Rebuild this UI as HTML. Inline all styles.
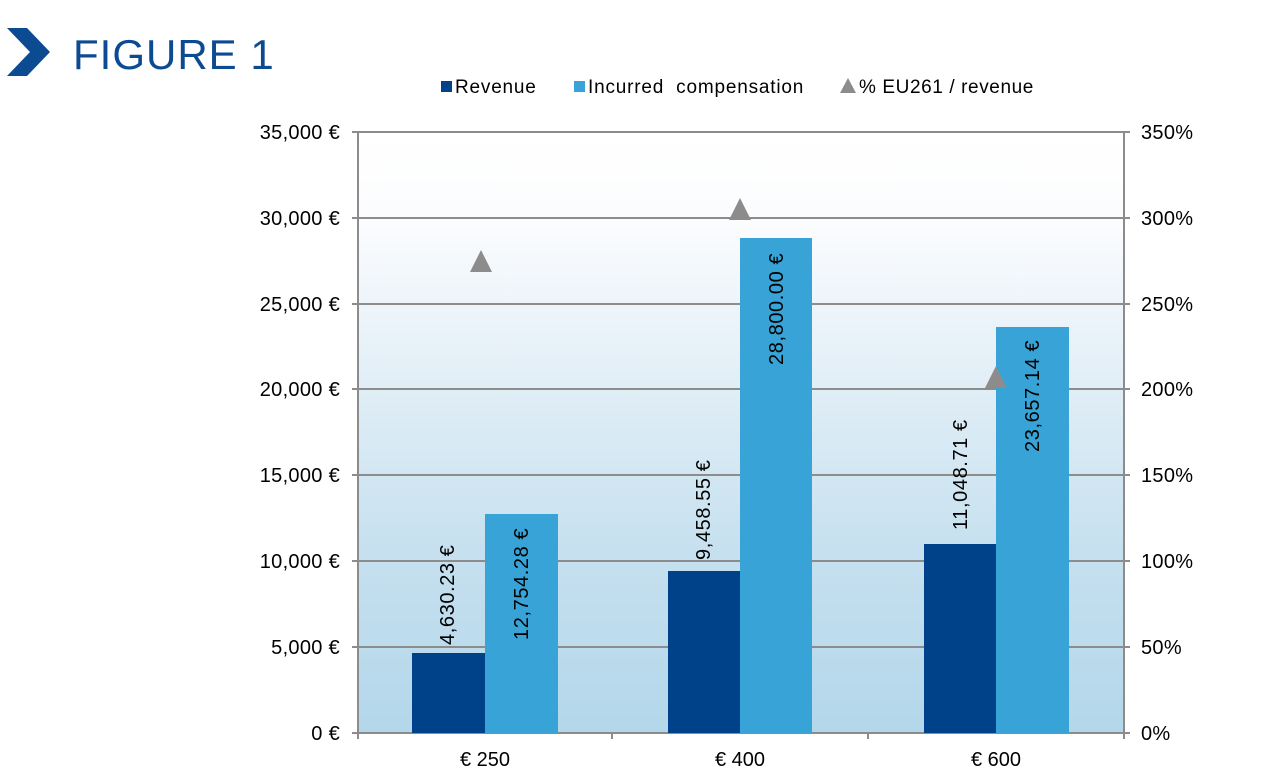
<!DOCTYPE html>
<html><head><style>body{margin:0;background:#fff}svg{display:block}text{font-family:"Liberation Sans",Arial,sans-serif}</style></head>
<body>
<svg width="1268" height="777" viewBox="0 0 1268 777">
<defs><linearGradient id="g" x1="0" y1="0" x2="0" y2="1">
<stop offset="0" stop-color="#ffffff"/><stop offset="0.15" stop-color="#fbfcfe"/><stop offset="0.7" stop-color="#c6e0ef"/><stop offset="1" stop-color="#b3d7ea"/></linearGradient></defs>
<polygon points="7,28 27,28 50,52 27,76 7,76 30,52" fill="#0c4a92"/>
<text x="73" y="69" font-size="42" fill="#0c4a92" letter-spacing="1">FIGURE 1</text>
<rect x="358" y="132" width="766" height="601" fill="url(#g)"/>
<g stroke="#8c8c8c" stroke-width="2">
<line x1="352" y1="132" x2="1130" y2="132"/><line x1="352" y1="218" x2="1130" y2="218"/>
<line x1="352" y1="304" x2="1130" y2="304"/><line x1="352" y1="389" x2="1130" y2="389"/>
<line x1="352" y1="475" x2="1130" y2="475"/><line x1="352" y1="561" x2="1130" y2="561"/>
<line x1="352" y1="647" x2="1130" y2="647"/><line x1="352" y1="733" x2="1130" y2="733"/>
<line x1="358" y1="132" x2="358" y2="739"/><line x1="1124" y1="132" x2="1124" y2="733"/>
<line x1="612" y1="733" x2="612" y2="739"/><line x1="868" y1="733" x2="868" y2="739"/><line x1="1124" y1="733" x2="1124" y2="739"/>
</g>
<g fill="#00428a"><rect x="412" y="653" width="73" height="80"/><rect x="668" y="571" width="72" height="162"/><rect x="924" y="544" width="72" height="189"/></g>
<g fill="#37a3d7"><rect x="485" y="514" width="73" height="219"/><rect x="740" y="238" width="72" height="495"/><rect x="996" y="327" width="73" height="406"/></g>
<g fill="#8c8c8c"><polygon points="481,250 470,272 492,272"/><polygon points="740,198 729,220 751,220"/><polygon points="996,366 985,388 1007,388"/></g>
<g font-size="20" fill="#000" text-anchor="end" letter-spacing="0.3">
<text x="340" y="139">35,000 €</text><text x="340" y="225">30,000 €</text><text x="340" y="311">25,000 €</text><text x="340" y="396">20,000 €</text><text x="340" y="482">15,000 €</text><text x="340" y="568">10,000 €</text><text x="340" y="654">5,000 €</text><text x="340" y="740">0 €</text>
</g>
<g font-size="20" fill="#000" letter-spacing="0.3">
<text x="1141" y="139">350%</text><text x="1141" y="225">300%</text><text x="1141" y="311">250%</text><text x="1141" y="396">200%</text><text x="1141" y="482">150%</text><text x="1141" y="568">100%</text><text x="1141" y="654">50%</text><text x="1141" y="740">0%</text>
</g>
<g font-size="20" text-anchor="middle"><text x="485" y="766">€ 250</text><text x="740" y="766">€ 400</text><text x="996" y="766">€ 600</text></g>
<g font-size="20" letter-spacing="0.6">
<text transform="translate(454,645) rotate(-90)">4,630.23 €</text>
<text transform="translate(528,640) rotate(-90)">12,754.28 €</text>
<text transform="translate(710,560) rotate(-90)">9,458.55 €</text>
<text transform="translate(783,365) rotate(-90)">28,800.00 €</text>
<text transform="translate(967,530) rotate(-90)">11,048.71 €</text>
<text transform="translate(1039,452) rotate(-90)">23,657.14 €</text>
</g>
<rect x="441" y="81" width="11" height="11" fill="#00428a"/>
<text x="455" y="93" font-size="19" letter-spacing="0.8">Revenue</text>
<rect x="574" y="81" width="11" height="11" fill="#37a3d7"/>
<text x="588" y="93" font-size="19" letter-spacing="0.8" word-spacing="6">Incurred compensation</text>
<polygon points="848,78 840,93 856,93" fill="#8c8c8c"/>
<text x="859" y="93" font-size="19" letter-spacing="0.6">% EU261 / revenue</text>
</svg>
</body></html>
